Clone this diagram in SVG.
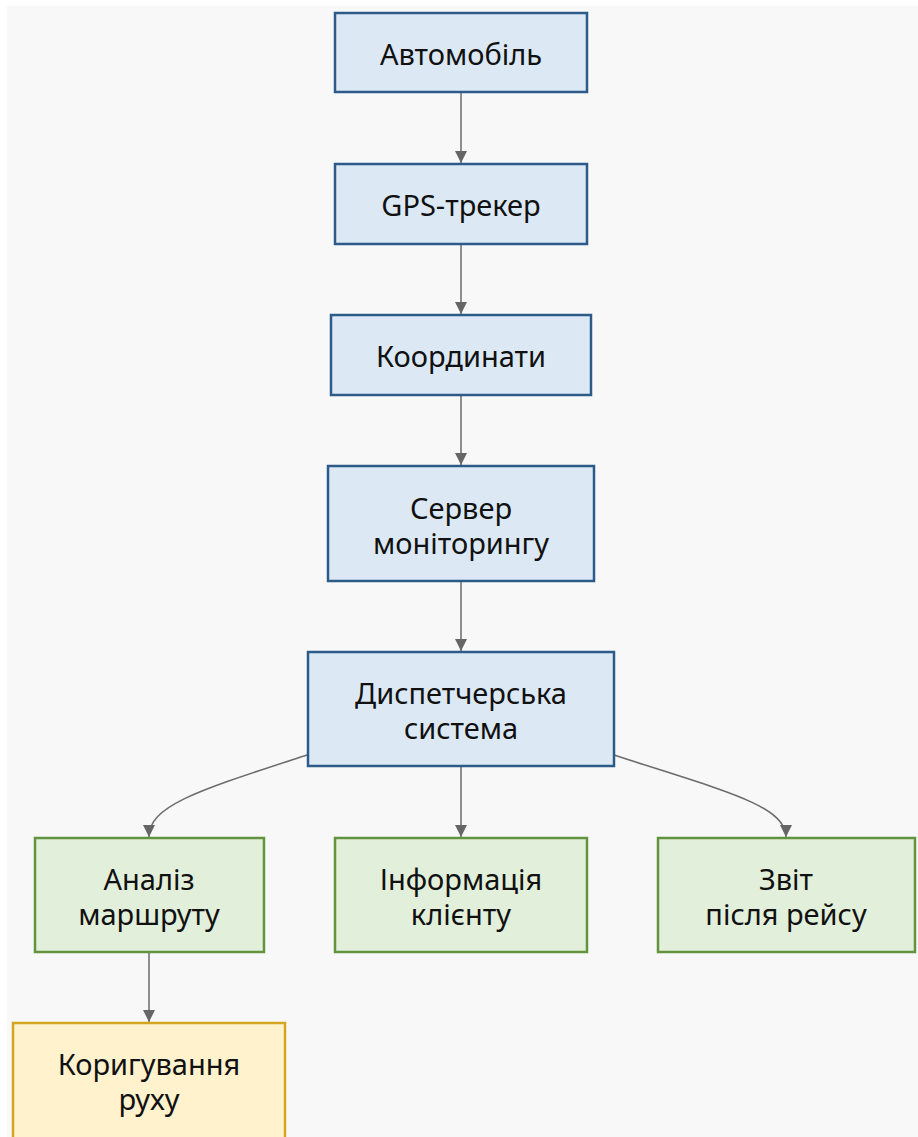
<svg xmlns="http://www.w3.org/2000/svg" width="918" height="1137" viewBox="0 0 918 1137">
<defs>
<style>
.blue rect{fill:#dce9f5;stroke:#2c5b8a;stroke-width:2.5}
.green rect{fill:#e2efda;stroke:#62933f;stroke-width:2.5}
.yellow rect{fill:#fff2cc;stroke:#d4a521;stroke-width:2.5}
text{font-family:"Noto Sans","Open Sans","DejaVu Sans",sans-serif;font-size:29px;fill:#111;text-anchor:middle}
.edge{fill:none;stroke:#6b6b6b;stroke-width:1.5;marker-end:url(#arr)}
</style>
<marker id="arr" markerUnits="userSpaceOnUse" markerWidth="12" markerHeight="12" refX="10" refY="5" viewBox="0 0 10 10" orient="auto">
<path d="M0,0 L10,5 L0,10 z" fill="#666"/>
</marker>
</defs>
<rect x="0" y="0" width="918" height="1137" fill="#ffffff"/>
<rect x="7" y="6" width="911" height="1131" fill="#f8f8f8"/>
<g id="connectors">
<path class="edge" d="M461,93 L461,163"/>
<path class="edge" d="M461,244 L461,314"/>
<path class="edge" d="M461,395 L461,465"/>
<path class="edge" d="M461,581 L461,651"/>
<path class="edge" d="M461,767 L461,837"/>
<path class="edge" d="M307,755 C200,790 149,805 149,837"/>
<path class="edge" d="M614,755 C721,790 786,805 786,837"/>
<path class="edge" d="M149,953 L149,1022"/>
</g>
<g id="n1" class="blue"><rect x="335" y="13" width="252" height="79"/><text x="461" y="65">Автомобіль</text></g>
<g id="n2" class="blue"><rect x="335" y="164" width="252" height="80"/><text x="461" y="216">GPS-трекер</text></g>
<g id="n3" class="blue"><rect x="331" y="315" width="260" height="80"/><text x="461" y="367">Координати</text></g>
<g id="n4" class="blue"><rect x="328" y="466" width="266" height="115"/><text x="461" y="519">Сервер</text><text x="461" y="554">моніторингу</text></g>
<g id="n5" class="blue"><rect x="308" y="652" width="306" height="114"/><text x="461" y="704">Диспетчерська</text><text x="461" y="739">система</text></g>
<g id="n6" class="green"><rect x="35" y="838" width="229" height="114"/><text x="149" y="890">Аналіз</text><text x="149" y="925">маршруту</text></g>
<g id="n7" class="green"><rect x="335" y="838" width="252" height="114"/><text x="461" y="890">Інформація</text><text x="461" y="925">клієнту</text></g>
<g id="n8" class="green"><rect x="658" y="838" width="257" height="114"/><text x="786" y="890">Звіт</text><text x="786" y="925">після рейсу</text></g>
<g id="n9" class="yellow"><rect x="13" y="1023" width="272" height="120"/><text x="149" y="1075">Коригування</text><text x="149" y="1110">руху</text></g>
</svg>
